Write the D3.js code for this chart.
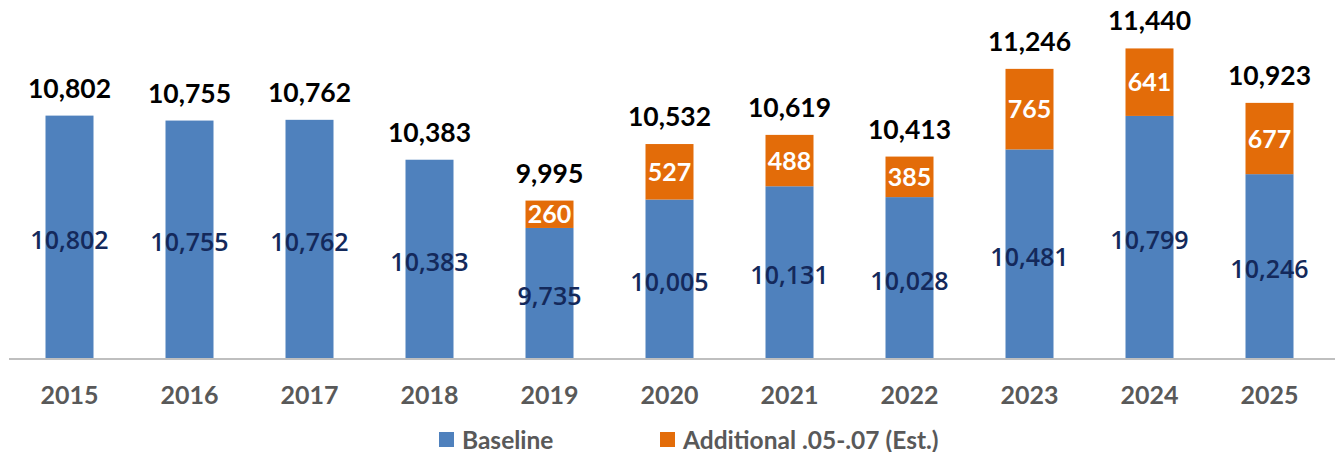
<!DOCTYPE html>
<html>
<head>
<meta charset="utf-8">
<script src="https://cdn.jsdelivr.net/npm/d3@7"></script>
<style>
  body { margin: 0; background: #fff; }
  svg { display: block; font-family: Lato, "Open Sans", sans-serif; }
</style>
</head>
<body>
<svg width="1335" height="452"></svg>
<script>
// chart data
var years = ['2015', '2016', '2017', '2018', '2019', '2020', '2021', '2022', '2023', '2024', '2025'];
var baseline = [10802, 10755, 10762, 10383, 9735, 10005, 10131, 10028, 10481, 10799, 10246];
var additional = [0, 0, 0, 0, 260, 527, 488, 385, 765, 641, 677];
var seriesNames = ['Baseline', 'Additional .05-.07 (Est.)'];

var width = 1335, height = 452;
var blue = '#4f81bd', orange = '#e36c09';

var svg = d3.select('svg');

var x = d3.scaleBand()
  .domain(years)
  .range([9.5, 1329.5])
  .paddingInner(0.6)
  .paddingOuter(0.3);

// value axis is not drawn; it starts at 8,500
var y = d3.scaleLinear()
  .domain([8500, 11900])
  .range([358, 0]);

var fmt = d3.format(',');

var rows = years.map(function(yr, i) {
  return { year: yr, base: baseline[i], add: additional[i], total: baseline[i] + additional[i] };
});

var g = svg.append('g');

// baseline bars
g.selectAll('rect.base')
  .data(rows).enter()
  .append('rect')
  .attr('class', 'base')
  .attr('x', function(d) { return x(d.year); })
  .attr('width', x.bandwidth())
  .attr('y', function(d) { return y(d.base); })
  .attr('height', function(d) { return y(8500) - y(d.base); })
  .style('fill', blue);

// additional bars stacked on top
g.selectAll('rect.add')
  .data(rows.filter(function(d) { return d.add > 0; })).enter()
  .append('rect')
  .attr('class', 'add')
  .attr('x', function(d) { return x(d.year); })
  .attr('width', x.bandwidth())
  .attr('y', function(d) { return y(d.total); })
  .attr('height', function(d) { return y(d.base) - y(d.total); })
  .style('fill', orange);

// category axis line
svg.append('line')
  .attr('x1', 9).attr('x2', width)
  .attr('y1', 359).attr('y2', 359)
  .style('stroke', '#bfbfbf')
  .style('stroke-width', 2);

// year labels
g.selectAll('text.year')
  .data(rows).enter()
  .append('text')
  .attr('class', 'year')
  .attr('x', function(d) { return x(d.year) + x.bandwidth() / 2; })
  .attr('y', 404)
  .attr('text-anchor', 'middle')
  .style('font-size', '25px')
  .style('font-weight', 'bold')
  .style('fill', '#595959')
  .text(function(d) { return d.year; });

// baseline values inside the blue bars
g.selectAll('text.baseval')
  .data(rows).enter()
  .append('text')
  .attr('class', 'baseval')
  .attr('x', function(d) { return x(d.year) + x.bandwidth() / 2; })
  .attr('y', function(d) { return (y(d.base) + y(8500)) / 2 + 12; })
  .attr('text-anchor', 'middle')
  .style('font-family', '"Open Sans", sans-serif')
  .style('font-size', '25px')
  .style('font-weight', 600)
  .style('fill', '#14295b')
  .text(function(d) { return fmt(d.base); });

// additional values inside the orange bars
g.selectAll('text.addval')
  .data(rows.filter(function(d) { return d.add > 0; })).enter()
  .append('text')
  .attr('class', 'addval')
  .attr('x', function(d) { return x(d.year) + x.bandwidth() / 2; })
  .attr('y', function(d) { return (y(d.total) + y(d.base)) / 2 + 9; })
  .attr('text-anchor', 'middle')
  .style('font-size', '25px')
  .style('font-weight', 'bold')
  .style('fill', '#fff')
  .text(function(d) { return fmt(d.add); });

// totals above the bars
g.selectAll('text.total')
  .data(rows).enter()
  .append('text')
  .attr('class', 'total')
  .attr('x', function(d) { return x(d.year) + x.bandwidth() / 2; })
  .attr('y', function(d) { return y(d.total) - 18; })
  .attr('text-anchor', 'middle')
  .style('font-size', '26.5px')
  .style('font-weight', 'bold')
  .style('fill', '#000')
  .text(function(d) { return fmt(d.total); });

// legend
var legendX = [439, 660];
var legend = svg.selectAll('g.legend')
  .data(seriesNames).enter()
  .append('g')
  .attr('class', 'legend')
  .attr('transform', function(d, i) { return 'translate(' + legendX[i] + ',432)'; });

legend.append('rect')
  .attr('width', 15).attr('height', 15)
  .style('fill', function(d, i) { return i === 0 ? blue : orange; });

legend.append('text')
  .attr('x', 23)
  .attr('y', 16.5)
  .style('font-size', '24.5px')
  .style('font-weight', 'bold')
  .style('fill', '#595959')
  .text(function(d) { return d; });
</script>
</body>
</html>
